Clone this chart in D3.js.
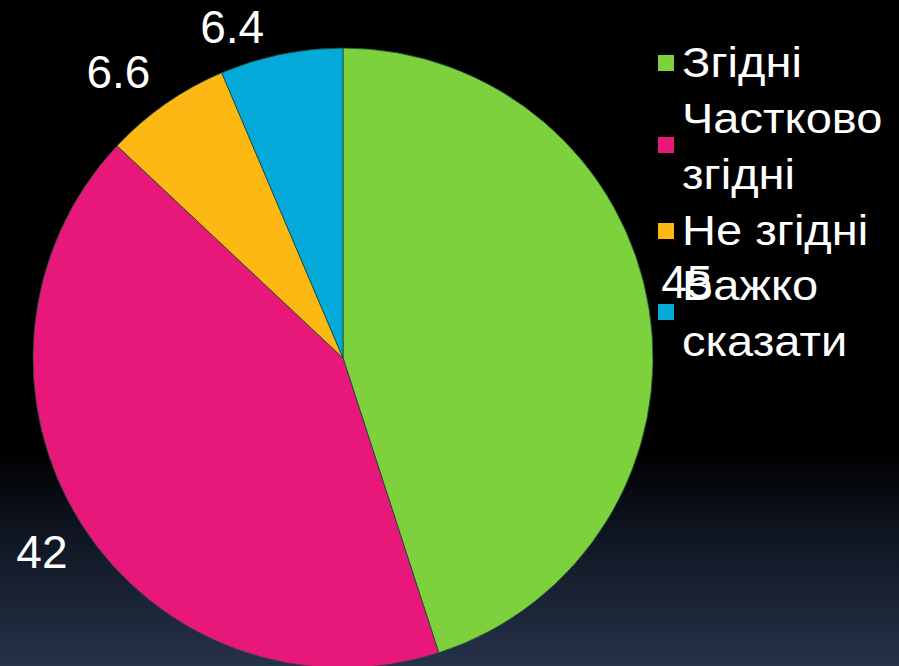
<!DOCTYPE html>
<html>
<head>
<meta charset="utf-8">
<script src="https://cdn.jsdelivr.net/npm/d3@7"></script>
<style>
  html, body { margin: 0; padding: 0; background: #000; }
  svg { display: block; }
  text { font-family: "Liberation Sans", Arial, sans-serif; fill: #fff; }
</style>
</head>
<body>
<svg id="chart" width="899" height="666"></svg>
<script>
// data
var categories = ["Згідні", "Частково згідні", "Не згідні", "Важко сказати"];
var values = [45, 42, 6.6, 6.4];
var valueLabels = ["45", "42", "6.6", "6.4"];
var legendLines = [["Згідні"], ["Частково", "згідні"], ["Не згідні"], ["Важко", "сказати"]];
var colors = ["#7dd13d", "#e8177a", "#fdb813", "#03a9d8"];

var svg = d3.select("#chart");

// background gradient
var defs = svg.append("defs");
var grad = defs.append("linearGradient")
    .attr("id", "bg")
    .attr("x1", 0).attr("y1", 0).attr("x2", 0).attr("y2", 1);
grad.append("stop").attr("offset", "0%").attr("stop-color", "#000000");
grad.append("stop").attr("offset", "68%").attr("stop-color", "#000000");
grad.append("stop").attr("offset", "80%").attr("stop-color", "#0f1521");
grad.append("stop").attr("offset", "100%").attr("stop-color", "#263249");
svg.append("rect").attr("width", 899).attr("height", 666).attr("fill", "url(#bg)");

var cx = 343, cy = 358, r = 310;

var pie = d3.pie().sort(null).value(function(d){return d;});
var arc = d3.arc().innerRadius(0).outerRadius(r);
var arcs = pie(values);

var g = svg.append("g").attr("transform", "translate(" + cx + "," + cy + ")");

g.selectAll("path")
    .data(arcs)
    .enter().append("path")
    .attr("d", arc)
    .attr("fill", function(d, i){return colors[i];})
    .attr("stroke", "#1d4a3a")
    .attr("stroke-width", 0.8);

// data labels (outside end, nudged like the original)
var labelArc = d3.arc().innerRadius(r + 30).outerRadius(r + 30);
var labelNudge = [[8, -23], [-14, 12], [-30, -7], [-43, 2]];
g.selectAll("text.val")
    .data(arcs)
    .enter().append("text")
    .attr("class", "val")
    .attr("x", function(d, i){return labelArc.centroid(d)[0] + labelNudge[i][0];})
    .attr("y", function(d, i){return labelArc.centroid(d)[1] + labelNudge[i][1];})
    .attr("text-anchor", "middle")
    .attr("dy", "0.35em")
    .style("font-size", "46px")
    .text(function(d, i){return valueLabels[i];});

// legend
var legendY = [77, 133, 245, 300];
var lineH = 56;
var legend = svg.append("g");
legendLines.forEach(function(lines, i) {
    var y0 = legendY[i];
    var sqY = lines.length > 1 ? y0 + 4 : y0 - 22;
    legend.append("rect")
        .attr("x", 658).attr("y", sqY)
        .attr("width", 16).attr("height", 16)
        .attr("fill", colors[i]);
    lines.forEach(function(t, j) {
        legend.append("text")
            .attr("transform", "translate(682," + (y0 + j * lineH) + ") scale(1.12,1)")
            .style("font-size", "42px")
            .text(t);
    });
});
</script>
</body>
</html>
